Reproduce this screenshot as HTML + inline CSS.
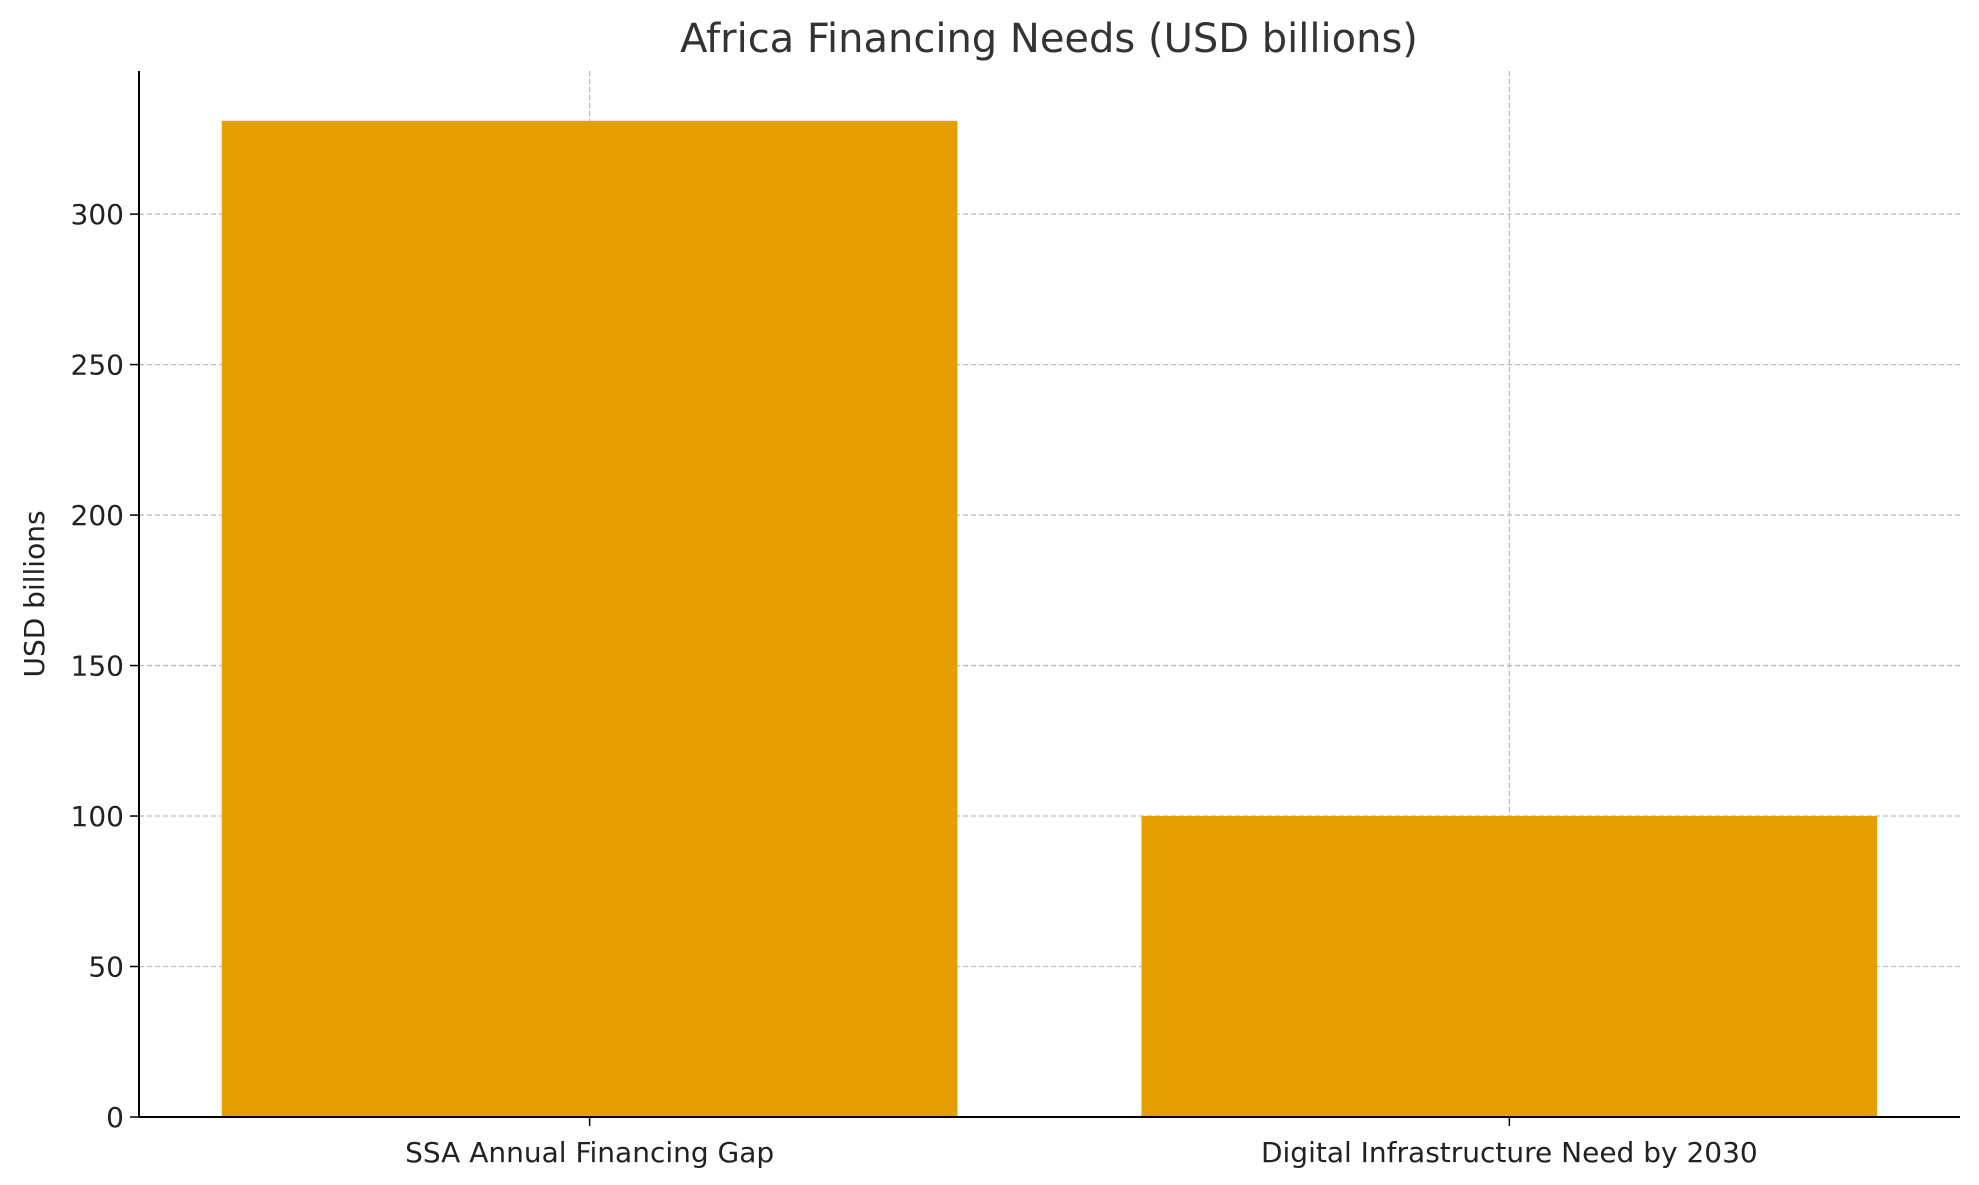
<!DOCTYPE html>
<html><head><meta charset="utf-8"><style>
body{margin:0;background:#fff;}
svg text{font-family:"DejaVu Sans","Liberation Sans",sans-serif;fill:#222;}
</style></head><body>
<svg id="chart" width="1979" height="1180" viewBox="0 0 1979 1180" xmlns="http://www.w3.org/2000/svg">
<text x="1049" y="52" font-size="40" text-anchor="middle" style="fill:#333">Africa Financing Needs (USD billions)</text>
<g id="grid"></g><g id="bars"></g><g id="axes"></g>
<text transform="translate(44,594) rotate(-90)" font-size="28" text-anchor="middle">USD billions</text>
</svg>
<script>
const categories = ["SSA Annual Financing Gap", "Digital Infrastructure Need by 2030"];
const values = [331, 100];
const yTicks = [0, 50, 100, 150, 200, 250, 300];

const L=139,R=1960,T=71,B=1117;
const xMin=-0.49,xMax=1.49;
const yMax=Math.max(...values)*1.05;
const xs=v=>L+(v-xMin)/(xMax-xMin)*(R-L);
const ys=v=>B-v/yMax*(B-T);
const NS="http://www.w3.org/2000/svg";
function mk(tag,attrs,parent){const e=document.createElementNS(NS,tag);for(const k in attrs)e.setAttribute(k,attrs[k]);parent.appendChild(e);return e;}
const grid=document.getElementById('grid'),bars=document.getElementById('bars'),axes=document.getElementById('axes');
yTicks.forEach(t=>{
  const y=ys(t);
  if(t>0){const g=mk('line',{x1:L,x2:R,y1:y,y2:y,stroke:'#bbb','stroke-width':1.3,'stroke-dasharray':'5,3'},grid);
  
  }
  const tk=mk('line',{x1:L-9,x2:L,y1:y,y2:y,stroke:'#000','stroke-width':1.5},axes);
  
  
  const lb=mk('text',{x:L-15,y:y+10,'font-size':28,'text-anchor':'end'},axes);
  lb.textContent=t;
  
  
});
categories.forEach((c,i)=>{
  const x=xs(i);
  const g=mk('line',{x1:x,x2:x,y1:T,y2:B,stroke:'#bbb','stroke-width':1.3,'stroke-dasharray':'5,3'},grid);
  
  
  const x0=xs(i-0.4),x1=xs(i+0.4);
  const r=mk('rect',{x:x0,y:ys(values[i]),width:x1-x0,height:B-ys(values[i]),fill:'#e59f00'},bars);
  
  
  const tk=mk('line',{x1:x,x2:x,y1:B,y2:B+9,stroke:'#000','stroke-width':1.5},axes);
  
  
  const lb=mk('text',{x:x,y:B+45,'font-size':28,'text-anchor':'middle'},axes);
  lb.textContent=c;
  
  
});
const ya=mk('line',{x1:L,x2:L,y1:T,y2:B,stroke:'#000','stroke-width':2},axes);


const xa=mk('line',{x1:L,x2:R,y1:B,y2:B,stroke:'#000','stroke-width':2},axes);


</script>
</body></html>
